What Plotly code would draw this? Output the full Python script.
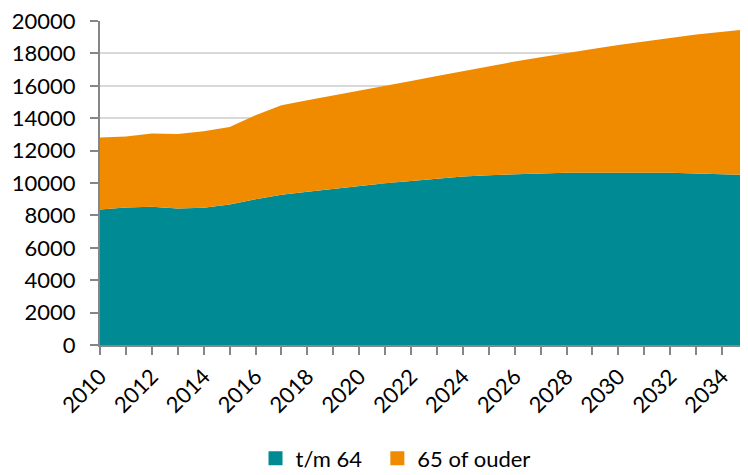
"""Stacked area chart: population by age group, 2010-2035."""

import plotly.graph_objects as go

years = list(range(2010, 2036))

# t/m 64
under_65 = [
    8370, 8490, 8530, 8430, 8470, 8680, 9000, 9270, 9460, 9640,
    9820, 9990, 10130, 10280, 10400, 10480, 10550, 10590, 10630, 10630,
    10650, 10650, 10630, 10590, 10550, 10500,
]
# 65 of ouder
over_65 = [
    4440, 4380, 4520, 4600, 4730, 4780, 5180, 5530, 5650, 5760,
    5860, 6000, 6170, 6330, 6520, 6740, 6950, 7170, 7400, 7640,
    7870, 8100, 8320, 8570, 8770, 8990,
]
series_names = ["t/m 64", "65 of ouder"]
y_ticks = list(range(0, 20001, 2000))
x_ticks = list(range(2010, 2035, 2))

TEAL = "#008b94"
ORANGE = "#f08b00"
FONT = "Lato, 'Open Sans', sans-serif"
AXIS_GREY = "#868686"

fig = go.Figure()

legend_ids = ["legend", "legend2"]
for name, values, color, leg in zip(
    series_names, [under_65, over_65], [TEAL, ORANGE], legend_ids
):
    fig.add_trace(
        go.Scatter(
            x=years,
            y=values,
            name=name,
            mode="lines",
            stackgroup="one",
            line={"width": 0, "color": color},
            fillcolor=color,
            showlegend=False,
        )
    )
    # square legend marker, one legend per item for Excel-like spacing
    fig.add_trace(
        go.Scatter(
            x=[None],
            y=[None],
            name=name,
            mode="markers",
            marker={"symbol": "square", "size": 14, "color": color},
            legend=leg,
        )
    )

legend_style = {
    "orientation": "h",
    "xanchor": "left",
    "y": -0.35,
    "yanchor": "middle",
    "font": {"family": FONT, "size": 22, "color": "black"},
    "itemwidth": 30,
}

# page body adds an 8px margin, so the figure is 8px smaller on each axis
fig.update_layout(
    width=740,
    height=467,
    margin={"l": 92, "r": 0, "t": 13, "b": 130, "autoexpand": False},
    paper_bgcolor="white",
    plot_bgcolor="white",
    font={"family": FONT, "size": 22, "color": "black"},
    xaxis={
        "range": [2010, 2035],
        "tickvals": x_ticks,
        "ticktext": [str(v) for v in x_ticks],
        "tickangle": -45,
        "tickfont": {"family": FONT, "size": 22, "color": "black"},
        "ticklabeloverflow": "allow",
        "ticks": "outside",
        "ticklen": 8,
        "tickcolor": AXIS_GREY,
        "tickwidth": 1.5,
        "minor": {
            "dtick": 1,
            "tick0": 2010,
            "ticks": "outside",
            "ticklen": 8,
            "tickcolor": AXIS_GREY,
            "tickwidth": 1.5,
            "showgrid": False,
        },
        "showline": True,
        "linecolor": AXIS_GREY,
        "linewidth": 2,
        "showgrid": False,
        "zeroline": False,
        "automargin": False,
    },
    yaxis={
        "range": [0, 20000],
        "tickvals": y_ticks,
        "ticktext": [str(v) for v in y_ticks],
        "tickfont": {"family": FONT, "size": 22, "color": "black"},
        "ticklabeloverflow": "allow",
        "ticks": "outside",
        "ticklen": 8,
        "tickcolor": AXIS_GREY,
        "tickwidth": 1.5,
        "ticklabelstandoff": 10,
        "showline": True,
        "linecolor": AXIS_GREY,
        "linewidth": 2,
        "showgrid": True,
        "gridcolor": "#d9d9d9",
        "gridwidth": 1.5,
        "zeroline": False,
        "automargin": False,
    },
    legend={**legend_style, "x": 0.24},
    legend2={**legend_style, "x": 0.428},
)

fig.write_html("out.html")
